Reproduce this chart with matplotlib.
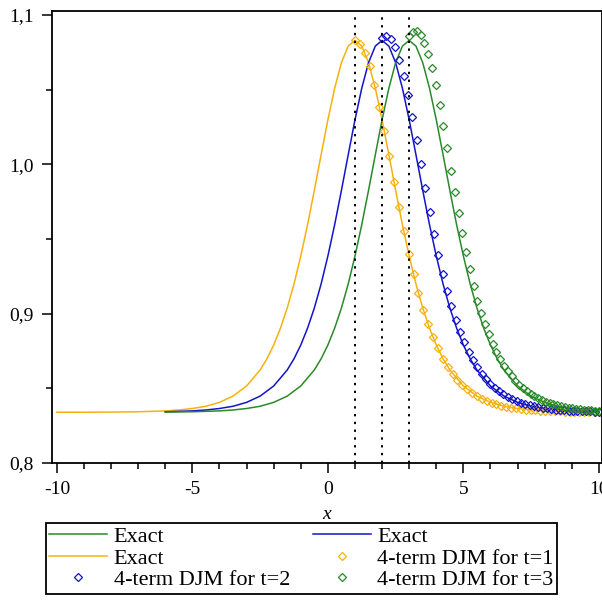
import matplotlib
matplotlib.use("Agg")
import matplotlib.pyplot as plt
from matplotlib.lines import Line2D

# ---------------- data ----------------
# exact solutions
orange_x = [-10, -9, -8, -7, -6, -5.5, -5, -4.5, -4, -3.5, -3, -2.5, -2.25, -2, -1.75, -1.5,
            -1.25, -1, -0.75, -0.5, -0.25, 0, 0.25, 0.5, 0.75, 1, 1.25, 1.5, 1.75, 2, 2.25,
            2.5, 2.75, 3, 3.25, 3.5, 3.75, 4, 4.25, 4.5, 5, 5.5, 6, 6.5, 7, 8, 9, 10]
orange_y = [0.8340, 0.8340, 0.8341, 0.8343, 0.8349, 0.8355, 0.8365, 0.8380, 0.8406, 0.8448,
            0.8516, 0.8623, 0.8698, 0.8790, 0.8903, 0.9038, 0.9199, 0.9386, 0.9596, 0.9826,
            1.0064, 1.0298, 1.0510, 1.0681, 1.0792, 1.0830, 1.0792, 1.0681, 1.0510, 1.0298,
            1.0064, 0.9826, 0.9596, 0.9386, 0.9199, 0.9038, 0.8903, 0.8790, 0.8698, 0.8623,
            0.8516, 0.8448, 0.8406, 0.8380, 0.8365, 0.8349, 0.8343, 0.8341]

blue_x = [-6, -5, -4.5, -4, -3.5, -3, -2.5, -2, -1.5, -1.25, -1, -0.75, -0.5, -0.25, 0, 0.25,
          0.5, 0.75, 1, 1.25, 1.5, 1.75, 2, 2.25, 2.5, 2.75, 3, 3.25, 3.5, 3.75, 4, 4.25, 4.5,
          4.75, 5, 5.25, 5.5, 6, 6.5, 7, 7.5, 8, 9, 10]
blue_y = [0.8343, 0.8349, 0.8355, 0.8365, 0.8380, 0.8406, 0.8448, 0.8516, 0.8623, 0.8698,
          0.8790, 0.8903, 0.9038, 0.9199, 0.9386, 0.9596, 0.9826, 1.0064, 1.0298, 1.0510,
          1.0681, 1.0792, 1.0830, 1.0792, 1.0681, 1.0510, 1.0298, 1.0064, 0.9826, 0.9596,
          0.9386, 0.9199, 0.9038, 0.8903, 0.8790, 0.8698, 0.8623, 0.8516, 0.8448, 0.8406,
          0.8380, 0.8365, 0.8349, 0.8343]

green_x = [-6, -5, -4, -3.5, -3, -2.5, -2, -1.5, -1, -0.5, -0.25, 0, 0.25, 0.5, 0.75, 1, 1.25,
           1.5, 1.75, 2, 2.25, 2.5, 2.75, 3, 3.25, 3.5, 3.75, 4, 4.25, 4.5, 4.75, 5, 5.25, 5.5,
           5.75, 6, 6.25, 6.5, 7, 7.5, 8, 8.5, 9, 10]
green_y = [0.8341, 0.8343, 0.8349, 0.8355, 0.8365, 0.8380, 0.8406, 0.8448, 0.8516, 0.8623,
           0.8698, 0.8790, 0.8903, 0.9038, 0.9199, 0.9386, 0.9596, 0.9826, 1.0064, 1.0298,
           1.0510, 1.0681, 1.0792, 1.0830, 1.0792, 1.0681, 1.0510, 1.0298, 1.0064, 0.9826,
           0.9596, 0.9386, 0.9199, 0.9038, 0.8903, 0.8790, 0.8698, 0.8623, 0.8516, 0.8448,
           0.8406, 0.8380, 0.8365, 0.8349]

# 4-term DJM approximations
djm1_x = [1.00, 1.18, 1.36, 1.54, 1.72, 1.90, 2.08, 2.26, 2.44, 2.62, 2.80, 2.98, 3.16, 3.34,
          3.52, 3.70, 3.88, 4.06, 4.24, 4.42, 4.60, 4.78, 4.96, 5.14, 5.32, 5.50, 5.68, 5.86,
          6.04, 6.22, 6.40, 6.58, 6.76, 6.94, 7.12, 7.30, 7.48, 7.66, 7.84, 8.02, 8.20, 8.38,
          8.56, 8.74, 8.92, 9.10, 9.28, 9.46, 9.64, 9.82, 10.00]
djm1_y = [1.0830, 1.0808, 1.0749, 1.0656, 1.0532, 1.0385, 1.0224, 1.0054, 0.9882, 0.9714,
          0.9552, 0.9403, 0.9264, 0.9140, 0.9027, 0.8929, 0.8843, 0.8768, 0.8699, 0.8645,
          0.8598, 0.8558, 0.8523, 0.8494, 0.8469, 0.8448, 0.8431, 0.8417, 0.8404, 0.8393,
          0.8385, 0.8378, 0.8371, 0.8366, 0.8362, 0.8358, 0.8355, 0.8353, 0.8351, 0.8349,
          0.8347, 0.8346, 0.8345, 0.8344, 0.8344, 0.8343, 0.8343, 0.8342, 0.8342, 0.8342,
          0.8341]

djm2_x = [2.00, 2.16, 2.32, 2.48, 2.64, 2.80, 2.96, 3.12, 3.28, 3.44, 3.60, 3.76, 3.92, 4.08,
          4.24, 4.40, 4.56, 4.72, 4.88, 5.04, 5.20, 5.36, 5.52, 5.68, 5.84, 6.00, 6.16, 6.32,
          6.48, 6.64, 6.80, 6.96, 7.12, 7.28, 7.44, 7.60, 7.76, 7.92, 8.08, 8.24, 8.40, 8.56,
          8.72, 8.88, 9.04, 9.20, 9.36, 9.52, 9.68, 9.84, 10.00]
djm2_y = [1.0846, 1.0860, 1.0842, 1.0787, 1.0696, 1.0591, 1.0462, 1.0318, 1.0162, 1.0001,
          0.9840, 0.9683, 0.9533, 0.9392, 0.9265, 0.9153, 0.9052, 0.8960, 0.8878, 0.8808,
          0.8745, 0.8689, 0.8641, 0.8598, 0.8562, 0.8531, 0.8504, 0.8480, 0.8459, 0.8442,
          0.8428, 0.8415, 0.8404, 0.8394, 0.8387, 0.8380, 0.8374, 0.8369, 0.8365, 0.8361,
          0.8358, 0.8355, 0.8353, 0.8351, 0.8349, 0.8348, 0.8347, 0.8346, 0.8345, 0.8344,
          0.8344]

djm3_x = [3.00, 3.14, 3.28, 3.42, 3.56, 3.70, 3.84, 3.98, 4.12, 4.26, 4.40, 4.54, 4.68, 4.82,
          4.96, 5.10, 5.24, 5.38, 5.52, 5.66, 5.80, 5.94, 6.08, 6.22, 6.36, 6.50, 6.64, 6.78,
          6.92, 7.06, 7.20, 7.34, 7.48, 7.62, 7.76, 7.90, 8.04, 8.18, 8.32, 8.46, 8.60, 8.74,
          8.88, 9.02, 9.16, 9.30, 9.44, 9.58, 9.72, 9.86, 10.00]
djm3_y = [1.0862, 1.0889, 1.0891, 1.0868, 1.0816, 1.0740, 1.0646, 1.0532, 1.0399, 1.0255,
          1.0107, 0.9956, 0.9813, 0.9673, 0.9538, 0.9412, 0.9296, 0.9187, 0.9088, 0.9005,
          0.8930, 0.8861, 0.8799, 0.8745, 0.8696, 0.8651, 0.8614, 0.8580, 0.8549, 0.8523,
          0.8500, 0.8480, 0.8462, 0.8447, 0.8433, 0.8421, 0.8410, 0.8402, 0.8393, 0.8387,
          0.8381, 0.8375, 0.8371, 0.8367, 0.8363, 0.8360, 0.8357, 0.8355, 0.8353, 0.8351,
          0.8350]

guide_x = [1, 2, 3]
x_ticks = [-10, -5, 0, 5, 10]
x_ticklabels = ["-10", "-5", "0", "5", "10"]
y_ticks = [0.8, 0.9, 1.0, 1.1]
y_ticklabels = ["0,8", "0,9", "1,0", "1,1"]
legend_labels = ["Exact", "Exact", "Exact",
                 "4-term DJM for t=1", "4-term DJM for t=2", "4-term DJM for t=3"]

# ---------------- style ----------------
C_OR = "#F7B10F"
C_BL = "#1414C8"
C_GR = "#2A8A2A"
SERIF = ["Liberation Serif", "DejaVu Serif"]

fig = plt.figure(figsize=(6.02, 6.04), dpi=100)
W, H = 602.0, 604.0
ax_left, ax_right = 52, 601.6
ax_bottom, ax_top = 463, 11
ax = fig.add_axes([ax_left / W, 1 - ax_bottom / H, (ax_right - ax_left) / W,
                   (ax_bottom - ax_top) / H])
ax.set_xlim(-10.18, 10.1)
ax.set_ylim(0.8, 1.1027)

lw = 1.1
ax.plot(orange_x, orange_y, color=C_OR, lw=lw)
ax.plot(blue_x, blue_y, color=C_BL, lw=lw)
ax.plot(green_x, green_y, color=C_GR, lw=lw)
mk = dict(ls="none", marker="D", ms=4.2, mfc="none", mew=0.9)
ax.plot(djm1_x, djm1_y, color=C_OR, **mk)
ax.plot(djm2_x, djm2_y, color=C_BL, **mk)
ax.plot(djm3_x, djm3_y, color=C_GR, **mk)
ax.vlines(guide_x, 0.8, 1.1, colors="k", linestyles=(0, (1.2, 2.8)), lw=1.4)

for s in ax.spines.values():
    s.set_linewidth(1.3)
ax.set_xticks(x_ticks)
ax.set_xticklabels(x_ticklabels)
ax.set_xticks(list(range(-10, 11)), minor=True)
ax.set_yticks(y_ticks)
ax.set_yticklabels(y_ticklabels)
ax.set_yticks([0.85, 0.95, 1.05], minor=True)
ax.tick_params(which="major", direction="out", length=7, width=1.1, pad=6)
ax.tick_params(which="minor", direction="out", length=4.5, width=1.1)
for lab in ax.get_xticklabels() + ax.get_yticklabels():
    lab.set_fontfamily(SERIF)
    lab.set_fontsize(14)
ax.set_xlabel("x", fontfamily=SERIF, fontstyle="italic", fontsize=14, labelpad=6)

# legend (row-major order arranged into matplotlib's column-major filling)
h_gr = Line2D([], [], color=C_GR, lw=lw)
h_bl = Line2D([], [], color=C_BL, lw=lw)
h_or = Line2D([], [], color=C_OR, lw=lw)
m_or = Line2D([], [], color=C_OR, **mk)
m_bl = Line2D([], [], color=C_BL, **mk)
m_gr = Line2D([], [], color=C_GR, **mk)
handles = [h_gr, h_or, m_bl, h_bl, m_or, m_gr]
labels = [legend_labels[0], legend_labels[2], legend_labels[4],
          legend_labels[1], legend_labels[3], legend_labels[5]]
leg = fig.legend(handles, labels, ncol=2, loc="upper left",
                 bbox_to_anchor=(46 / W, 1 - 589 / H, (557 - 46) / W, 66 / H),
                 mode="expand", borderaxespad=0, fancybox=False, framealpha=1,
                 edgecolor="black", prop={"family": SERIF, "size": 16},
                 handlelength=2.6, handletextpad=0.3, labelspacing=0.05,
                 borderpad=0.15, columnspacing=1.0)
leg.get_frame().set_linewidth(1.3)

fig.savefig("out.png", dpi=100)
